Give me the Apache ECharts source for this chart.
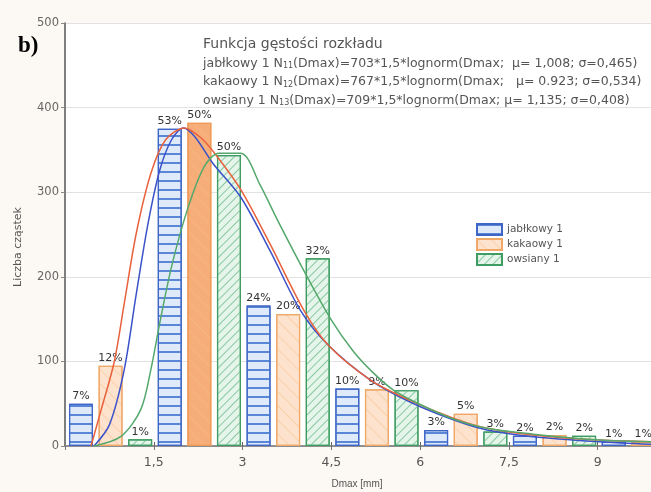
<!DOCTYPE html>
<html><head><meta charset="utf-8">
<script src="https://cdn.jsdelivr.net/npm/echarts@6/dist/echarts.min.js"></script>
<style>html,body{margin:0;padding:0;background:#fcf9f4}#c{width:651px;height:492px}</style>
</head><body><div id="c"></div>
<script>
// ---- data ----
const seriesNames = ['jabłkowy 1', 'kakaowy 1', 'owsiany 1'];
const binStart = [0, 1.5, 3, 4.5, 6, 7.5, 9];
const binWidth = 1.5;
const countsJablkowy = [50, 375, 166, 68, 19, 12, 5];
const countsKakaowy  = [95, 382, 156, 67, 38, 13, 5];
const countsOwsiany  = [8, 344, 222, 66, 17, 12];
const pctJablkowy = ['7%', '53%', '24%', '10%', '3%', '2%', '1%'];
const pctKakaowy  = ['12%', '50%', '20%', '9%', '5%', '2%', '1%'];
const pctOwsiany  = ['1%', '50%', '32%', '10%', '3%', '2%'];
const xTickLabels = ['1,5', '3', '4,5', '6', '7,5', '9'];
// fitted density curves: [Dmax, count]
const curveJablkowy = [[0.49,0],[0.75,25],[1.0,90],[1.2,178],[1.4,262],[1.6,326],[1.8,362],[2.0,376],[2.2,365],[2.5,334],[2.97,294],[3.47,230],[3.98,160],[4.45,119],[5.16,78],[5.83,52],[6.56,31],[7.13,19],[7.91,11],[9.04,5],[9.9,2]];
const curveKakaowy = [[0.44,0],[0.6,40],[0.83,99],[1.0,168],[1.2,250],[1.45,322],[1.7,362],[2.02,376],[2.3,364],[2.55,344],[2.97,303],[3.47,238],[4.03,161],[4.45,119],[5.16,78],[5.83,54],[6.56,33],[7.13,21],[7.91,13],[9.04,7],[9.9,5]];
const curveOwsiany = [[0.49,0],[0.94,11],[1.28,43],[1.45,90],[1.6,145],[1.8,212],[2.07,280],[2.35,330],[2.6,346],[2.97,346],[3.3,308],[3.59,267],[4.06,204],[4.49,150],[4.87,112],[5.2,87],[5.55,66],[6.0,49],[6.56,32],[7.13,21],[7.91,14],[9.04,7],[9.9,5]];
const titleLine = 'Funkcja gęstości rozkładu';
const fitLines = [
  ['jabłkowy 1 N', '11', '(Dmax)=703*1,5*lognorm(Dmax;  μ= 1,008; σ=0,465)'],
  ['kakaowy 1 N', '12', '(Dmax)=767*1,5*lognorm(Dmax;   μ= 0.923; σ=0,534)'],
  ['owsiany 1 N', '13', '(Dmax)=709*1,5*lognorm(Dmax; μ= 1,135; σ=0,408)']
];

// ---- styles ----
const FONT = 'DejaVu Sans';
const counts = [countsJablkowy, countsKakaowy, countsOwsiany];
const pcts = [pctJablkowy, pctKakaowy, pctOwsiany];
const curves = [curveJablkowy, curveKakaowy, curveOwsiany];
const barStyles = [
  {color:'#deeaf9', borderColor:'#3f66c6', borderWidth:1.2,
   decal:{symbol:'rect', symbolSize:1, dashArrayX:[1,0], dashArrayY:[1.2,6.8], rotation:0, color:'#5a86d8'}},
  {color:'#fde3cd', borderColor:'#f0a868', borderWidth:1.2,
   decal:{symbol:'rect', symbolSize:1, dashArrayX:[1,0], dashArrayY:[1,9], rotation:Math.PI/4, color:'rgba(246,190,140,0.5)'}},
  {color:'#e5f5ea', borderColor:'#3f9c62', borderWidth:1.2,
   decal:{symbol:'rect', symbolSize:1, dashArrayX:[1,0], dashArrayY:[1,5], rotation:-Math.PI/4, color:'#88c9a2'}}
];
const lineColors = ['#3b52c8', '#e8613c', '#55a86c'];
const slot = binWidth / 3;

const series = [];
counts.forEach((arr, s) => {
  const maxV = Math.max(...arr);
  series.push({
    type:'bar', name:seriesNames[s], barWidth:24, barGap:'-100%', z:2,
    itemStyle: barStyles[s],
    label:{show:true, position:'top', distance:2, fontSize:11, color:'#333', fontFamily:FONT,
      formatter: p => pcts[s][p.dataIndex]},
    data: arr.map((v, k) => {
      const d = {value:[binStart[k] + slot*(s+0.5) + 0.02, v]};
      if (s === 1 && v === maxV) d.itemStyle = {color:'#f6ad78', borderColor:'#ee9a58'};
      return d;
    })
  });
});
curves.forEach((c, s) => {
  series.push({type:'line', name:'fit'+s, data:c, smooth:0.3, symbol:'none', silent:true, z:5,
    lineStyle:{color:lineColors[s], width:1.5}});
});

const textGraphics = [
  {type:'text', left:18, top:35, style:{text:'b)', font:'bold 23px "Liberation Serif"', fill:'#000'}},
  {type:'text', left:203, top:37, style:{text:titleLine, font:'14px "DejaVu Sans"', fill:'#555'}}
];
fitLines.forEach((ln, i) => {
  textGraphics.push({type:'text', left:203, top:57 + i*18.5, style:{
    text: ln[0] + '{sub|' + ln[1] + '}' + ln[2],
    font:'12.5px "DejaVu Sans"', fill:'#555',
    rich:{sub:{fontSize:8, fill:'#555', padding:[5,0,0,0], fontFamily:FONT}}
  }});
});
textGraphics.push({type:'text', x:18, y:247, rotation:Math.PI/2, style:{text:'Liczba cząstek', font:'11px "DejaVu Sans"', fill:'#555', align:'center', verticalAlign:'middle'}});
textGraphics.push({type:'text', x:357, y:484, style:{text:'Dmax [mm]', font:'10px "Liberation Sans"', fill:'#555', align:'center', verticalAlign:'middle'}});

const chart = echarts.init(document.getElementById('c'));
chart.setOption({
  backgroundColor:'#fcf9f4',
  animation:false,
  aria:{enabled:true, decal:{show:true}},
  grid:{left:65, right:0, top:23, bottom:46, show:true, backgroundColor:'#ffffff', borderWidth:0},
  legend:{data:seriesNames, orient:'vertical', left:471, top:218, itemWidth:25, itemHeight:11, itemGap:2,
    icon:'rect', textStyle:{fontSize:10.5, color:'#555', fontFamily:FONT}},
  xAxis:[{
    type:'value', min:0, max:9.9, interval:1.5,
    axisLine:{show:true, onZero:false, lineStyle:{color:'#444', width:1.5}},
    axisTick:{show:true, inside:true, length:4, lineStyle:{color:'#666'}},
    splitLine:{show:false},
    axisLabel:{showMinLabel:false, showMaxLabel:false, fontSize:12.5, color:'#555', margin:10, fontFamily:FONT,
      formatter: v => { const i = Math.round(v/1.5) - 1; return xTickLabels[i] || ''; }}
  },{
    type:'value', position:'top', min:0, max:9.9, interval:1.5,
    axisLine:{show:true, lineStyle:{color:'#9a9a9a', width:1.5}},
    axisTick:{show:true, inside:true, length:4, lineStyle:{color:'#777'}},
    axisLabel:{show:false}, splitLine:{show:false}
  }],
  yAxis:{
    type:'value', min:0, max:500, interval:100,
    axisLine:{show:true, lineStyle:{color:'#555', width:1.5}},
    axisTick:{show:true, length:4, lineStyle:{color:'#888'}},
    splitLine:{show:true, lineStyle:{color:'#e2e2e2', width:1}},
    axisLabel:{fontSize:11.5, color:'#666', margin:6, fontFamily:FONT}
  },
  graphic: textGraphics,
  series: series
});
</script></body></html>
